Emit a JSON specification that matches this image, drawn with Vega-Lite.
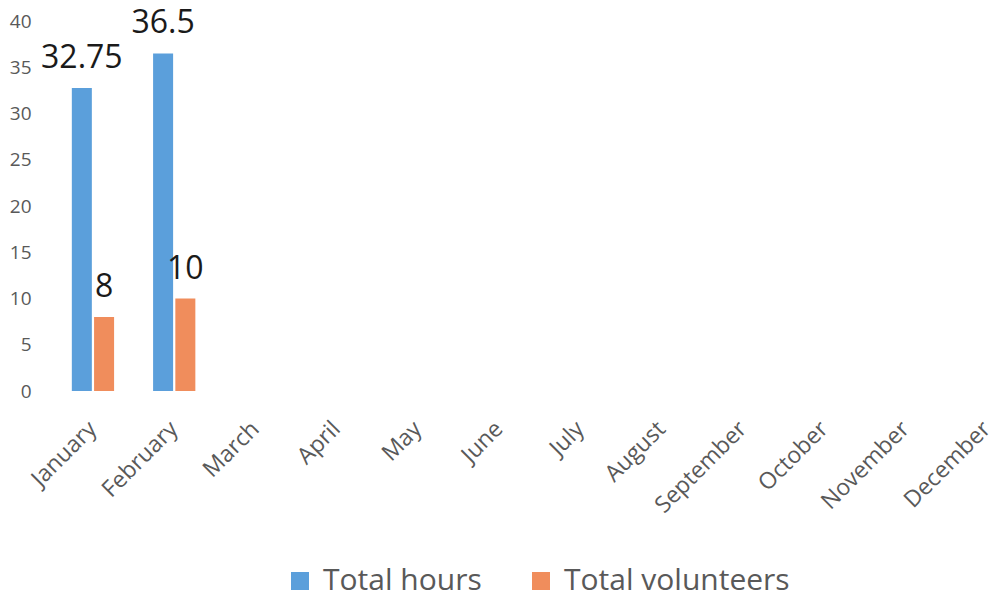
{
  "$schema": "https://vega.github.io/schema/vega-lite/v6.json",
  "autosize": "none",
  "width": 956,
  "height": 370,
  "padding": {"left": 52, "top": 21, "right": 0, "bottom": 210},
  "background": "white",
  "config": {
    "view": {"stroke": null},
    "font": "Open Sans"
  },
  "data": {
    "values": [
      {"month": "January", "series": "Total hours", "value": 32.75},
      {"month": "January", "series": "Total volunteers", "value": 8},
      {"month": "February", "series": "Total hours", "value": 36.5},
      {"month": "February", "series": "Total volunteers", "value": 10}
    ]
  },
  "encoding": {
    "x": {
      "field": "month",
      "type": "nominal",
      "scale": {
        "domain": ["January", "February", "March", "April", "May", "June", "July", "August", "September", "October", "November", "December"],
        "paddingInner": 0.48,
        "paddingOuter": 0.122,
        "align": 1
      },
      "axis": {
        "title": null,
        "labelAngle": -45,
        "labelAlign": "right",
        "labelBaseline": "middle",
        "labelFontSize": 23,
        "labelColor": "#595959",
        "labelFont": "Open Sans",
        "labelOverlap": false,
        "labelLimit": 300,
        "domain": false,
        "ticks": false,
        "labelPadding": 34
      }
    },
    "xOffset": {
      "field": "series",
      "type": "nominal",
      "scale": {"paddingInner": 0.1}
    },
    "y": {
      "field": "value",
      "type": "quantitative",
      "scale": {"domain": [0, 40]},
      "axis": {
        "title": null,
        "values": [0, 5, 10, 15, 20, 25, 30, 35, 40],
        "labelOverlap": false,
        "grid": false,
        "domain": false,
        "ticks": false,
        "labelFontSize": 19,
        "labelColor": "#595959",
        "labelPadding": 21
      }
    }
  },
  "layer": [
    {
      "mark": {"type": "bar"},
      "encoding": {
        "color": {
          "field": "series",
          "type": "nominal",
          "scale": {"domain": ["Total hours", "Total volunteers"], "range": ["#5B9FDB", "#F08D5C"]},
          "legend": {
            "title": null,
            "orient": "none",
            "legendX": 233,
            "legendY": 545,
            "direction": "horizontal",
            "symbolType": "square",
            "symbolSize": 324,
            "symbolStrokeWidth": 0,
            "labelFontSize": 30,
            "labelLimit": 400,
            "labelColor": "#595959",
            "columnPadding": 44,
            "labelOffset": 8
          }
        }
      }
    },
    {
      "mark": {"type": "text", "baseline": "alphabetic", "dy": -20, "fontSize": 32, "color": "#1a1a1a", "font": "Open Sans"},
      "encoding": {
        "text": {"field": "value", "type": "quantitative"}
      }
    }
  ]
}
